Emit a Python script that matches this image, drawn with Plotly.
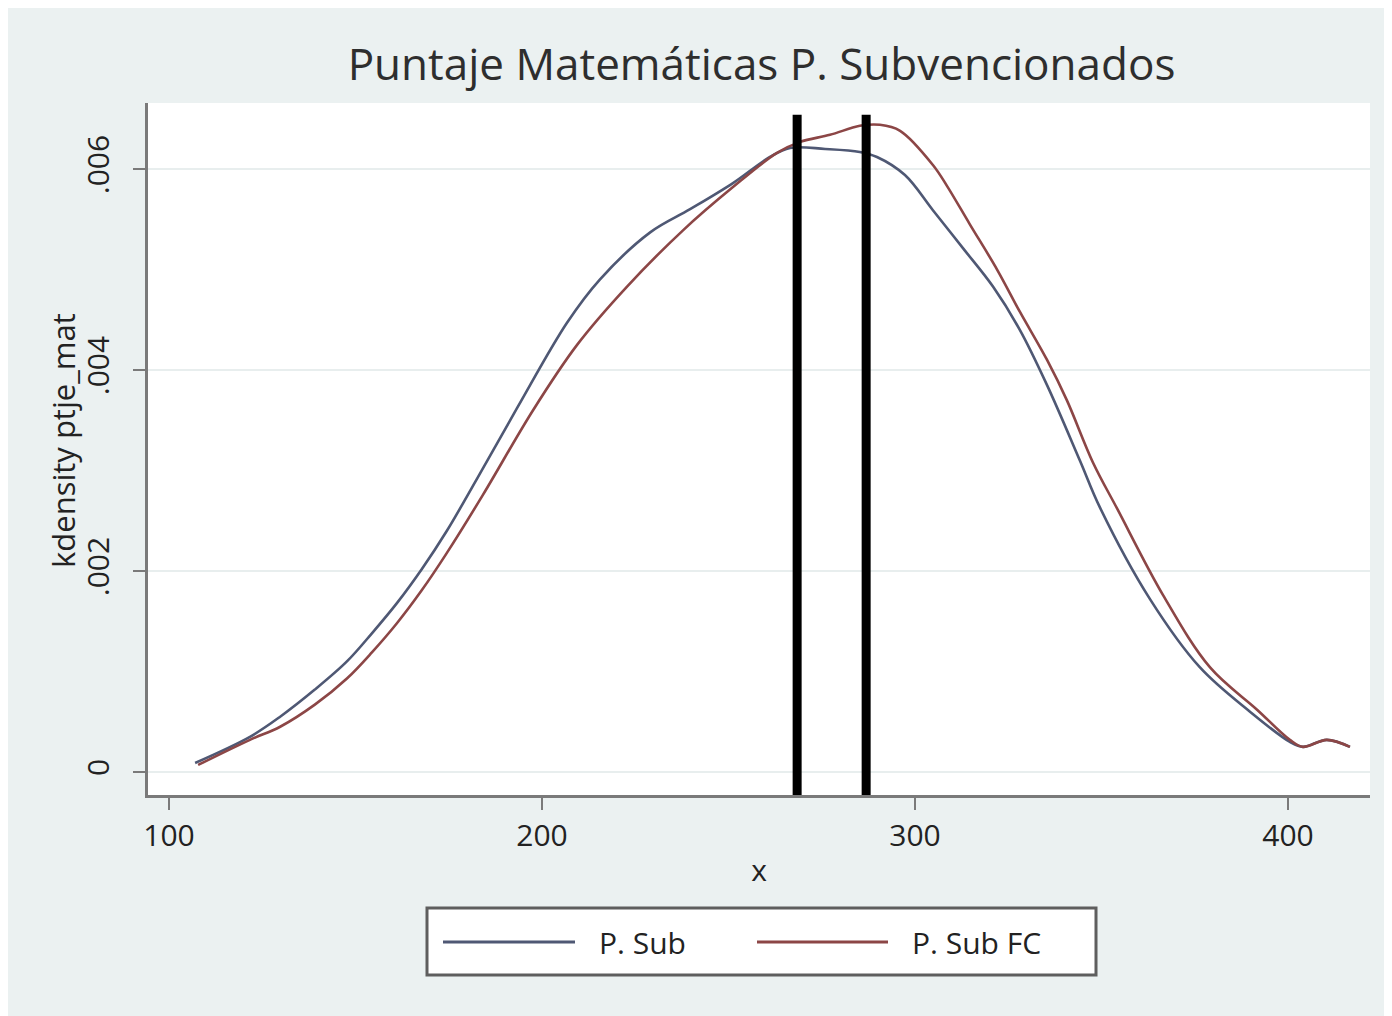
import plotly.graph_objects as go

# ---- data ----
sub_x = [107.0, 121.7, 129.8, 139.1, 147.7, 154.4, 161.1, 167.8, 174.5, 182.6, 193.3, 206.7,
         215.5, 229.0, 239.7, 251.2, 261.1, 266.5, 275.9, 285.2, 289.8, 297.3, 304.8, 312.9,
         320.9, 328.1, 335.4, 344.2, 349.6, 363.0, 376.4, 389.8, 400.5, 404.0, 410.4, 416.6]
sub_y = [0.00009, 0.00035, 0.00055, 0.00082, 0.00110, 0.00138, 0.00168, 0.00202, 0.00240,
         0.00292, 0.00362, 0.00447, 0.00490, 0.00537, 0.00560, 0.00586, 0.00612, 0.00621,
         0.00620, 0.00617, 0.00612, 0.00594, 0.00559, 0.00521, 0.00483, 0.00440, 0.00385,
         0.00310, 0.00263, 0.00172, 0.00104, 0.00060, 0.00030, 0.00025, 0.00032, 0.00025]

fc_x = [107.8, 121.7, 129.8, 139.1, 147.7, 154.4, 161.1, 167.8, 174.5, 184.2, 197.6, 209.4,
        222.8, 237.8, 251.2, 263.0, 269.2, 277.2, 285.2, 290.6, 296.0, 304.8, 308.6, 314.7,
        322.0, 328.1, 335.4, 340.7, 347.7, 354.2, 366.5, 379.1, 391.7, 400.5, 404.0, 410.4, 416.6]
fc_y = [0.00007, 0.00032, 0.00045, 0.00067, 0.00093, 0.00119, 0.00148, 0.00181, 0.00218,
        0.00276, 0.00360, 0.00425, 0.00483, 0.00539, 0.00582, 0.00616, 0.00627, 0.00634,
        0.00643, 0.00644, 0.00638, 0.00604, 0.00583, 0.00545, 0.00500, 0.00458, 0.00410,
        0.00370, 0.00308, 0.00262, 0.00176, 0.00104, 0.00062, 0.00032, 0.00025, 0.00032, 0.00025]

vlines_x = [268.4, 286.9]
vline_top = 0.00654

series_names = ["P. Sub", "P. Sub FC"]
x_ticks = [100, 200, 300, 400]
y_ticks = [0, 0.002, 0.004, 0.006]
y_ticktext = ["0", ".002", ".004", ".006"]

title_text = "Puntaje Matemáticas P. Subvencionados"
x_title = "x"
y_title = "kdensity ptje_mat"

# ---- styling ----
BLUE = "#4f5874"
RED = "#8c4646"
BG = "#ebf1f1"
AXIS = "#7a7a7a"
FONT = "Open Sans, Noto Sans, sans-serif"
XR = [94.37, 421.98]
YR = [-0.000229, 0.006657]
PL, PR, PT, PB = 140, 1362, 95, 787   # plot area in figure pixels
PW, PH = PR - PL, PB - PT


def px_x(p):  # page pixel -> paper fraction (page has 8px offset)
    return (p - 8 - PL) / PW


def px_y(p):
    return (PB - (p - 8)) / PH


fig = go.Figure()
fig.add_trace(go.Scatter(x=sub_x, y=sub_y, mode="lines", name=series_names[0],
                         line=dict(color=BLUE, width=2.6, shape="spline", smoothing=1.0)))
fig.add_trace(go.Scatter(x=fc_x, y=fc_y, mode="lines", name=series_names[1],
                         line=dict(color=RED, width=2.6, shape="spline", smoothing=1.0)))

for vx in vlines_x:
    fig.add_shape(type="line", xref="x", yref="y", x0=vx, x1=vx, y0=YR[0], y1=vline_top,
                  line=dict(color="black", width=9))

# manual legend box (Stata style)
fig.add_shape(type="rect", xref="paper", yref="paper",
              x0=px_x(427), x1=px_x(1096), y0=px_y(975), y1=px_y(908),
              line=dict(color="#5e5e5e", width=3), fillcolor="white", layer="above")
legend_items = [(443, 575, 597, BLUE), (757, 888, 910, RED)]
for (lx0, lx1, tx, col), name in zip(legend_items, series_names):
    yy = px_y(942)
    fig.add_shape(type="line", xref="paper", yref="paper",
                  x0=px_x(lx0), x1=px_x(lx1), y0=yy, y1=yy,
                  line=dict(color=col, width=3), layer="above")
    fig.add_annotation(xref="paper", yref="paper", x=px_x(tx), y=yy,
                       text=name, showarrow=False, xanchor="left", yanchor="middle",
                       font=dict(family=FONT, size=30, color="#222222"))

# y-axis title placed like Stata's
fig.add_annotation(xref="paper", yref="paper", x=px_x(63), y=px_y(441),
                   text=y_title, textangle=-90, showarrow=False,
                   xanchor="center", yanchor="middle",
                   font=dict(family=FONT, size=31, color="#222222"))

fig.update_layout(
    width=1392, height=1016,
    paper_bgcolor=BG, plot_bgcolor="white",
    margin=dict(l=PL, r=1392 - PR, t=PT, b=1016 - PB),
    showlegend=False,
    title=dict(text=title_text, x=(761.5 - 8) / 1392, xanchor="center",
               y=1 - (65 - 8) / 1016, yanchor="middle",
               font=dict(family=FONT, size=44, color="#2e2e2e")),
)
fig.update_xaxes(range=XR, tickvals=x_ticks, ticks="outside", ticklen=12, tickwidth=2,
                 tickcolor=AXIS, showline=True, linecolor=AXIS, linewidth=3,
                 showgrid=False, zeroline=False,
                 tickfont=dict(family=FONT, size=30, color="#222222"),
                 title=dict(text=x_title, font=dict(family=FONT, size=30, color="#222222"),
                            standoff=6))
fig.update_yaxes(range=YR, tickvals=y_ticks, ticktext=y_ticktext, tickangle=-90,
                 ticks="outside", ticklen=12, tickwidth=2, tickcolor=AXIS,
                 showline=True, linecolor=AXIS, linewidth=3, ticklabelstandoff=12,
                 showgrid=True, gridcolor="#e8eeee", gridwidth=2, zeroline=False,
                 tickfont=dict(family=FONT, size=30, color="#222222"))

fig.write_html("out.html")
